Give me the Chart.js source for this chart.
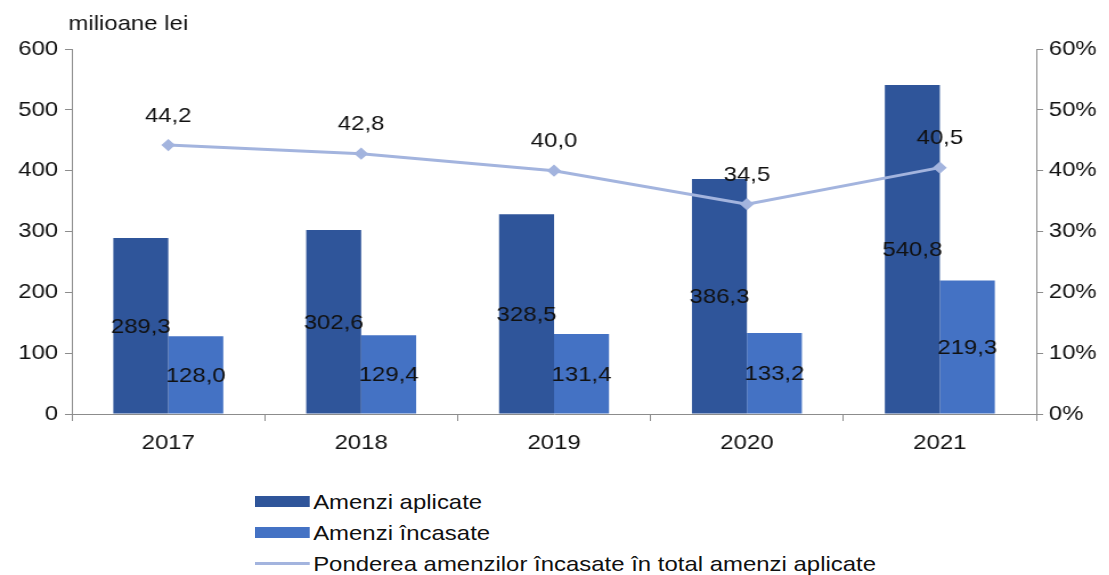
<!DOCTYPE html>
<html>
<head>
<meta charset="utf-8">
<script src="https://cdn.jsdelivr.net/npm/chart.js@4"></script>
<style>
  body { margin: 0; background: #fff; font-family: "Liberation Sans", Arial, sans-serif; }
  #wrap { position: relative; width: 1109px; height: 575px; overflow: hidden; }
  #myChart { position: absolute; left: 0; top: 0; transform: scaleX(1.14); transform-origin: left top; }
  #legend { position: absolute; left: 255px; top: 486px; font-size: 21px; color: #111;
            transform: scaleX(1.14); transform-origin: left top; white-space: nowrap; }
  .item { display: flex; align-items: center; height: 31px; }
  .sw { width: 48px; margin-right: 3px; }
</style>
</head>
<body>
<div id="wrap">
  <canvas id="myChart" width="973" height="465"></canvas>
  <div id="legend"></div>
</div>
<script>
const years = ['2017', '2018', '2019', '2020', '2021'];
const applied = [289.3, 302.6, 328.5, 386.3, 540.8];
const collected = [128.0, 129.4, 131.4, 133.2, 219.3];
const share = [44.2, 42.8, 40.0, 34.5, 40.5];
const leftTicks = [0, 100, 200, 300, 400, 500, 600];
const rightTicks = [0, 10, 20, 30, 40, 50, 60];

const darkBlue = '#2F559A';
const midBlue = '#4472C4';
const lineBlue = '#A3B4DE';
const fontFamily = '"Liberation Sans", Arial, sans-serif';

function fmt(v) {
  return v.toFixed(1).replace('.', ',');
}

// draws the value labels and the unit text
const labelPlugin = {
  id: 'valueLabels',
  afterDatasetsDraw(chart) {
    const ctx = chart.ctx;
    ctx.save();
    ctx.font = '21px ' + fontFamily;
    ctx.fillStyle = '#111';
    ctx.textAlign = 'center';
    ctx.textBaseline = 'middle';
    chart.data.datasets.forEach((ds, i) => {
      const meta = chart.getDatasetMeta(i);
      meta.data.forEach((el, j) => {
        if (ds.type === 'line') {
          ctx.fillText(fmt(ds.data[j]), el.x, el.y - 29);
        } else {
          const base = chart.scales.y.getPixelForValue(0);
          ctx.fillText(fmt(ds.data[j]), el.x, (el.y + base) / 2 + 1);
        }
      });
    });
    ctx.textAlign = 'left';
    ctx.fillText('milioane lei', 60, 24);
    ctx.restore();
  }
};

let chartCanvas = document.getElementById('myChart');

new Chart(chartCanvas, {
  data: {
    labels: years,
    datasets: [
      {
        type: 'line',
        label: 'Ponderea amenzilor încasate în total amenzi aplicate',
        data: share,
        yAxisID: 'y1',
        borderColor: lineBlue,
        backgroundColor: lineBlue,
        borderWidth: 3,
        pointStyle: 'rectRot',
        pointRadius: 4,
        tension: 0,
        order: 0
      },
      {
        type: 'bar',
        label: 'Amenzi aplicate',
        data: applied,
        yAxisID: 'y',
        backgroundColor: darkBlue,
        categoryPercentage: 0.57,
        barPercentage: 1,
        order: 1
      },
      {
        type: 'bar',
        label: 'Amenzi încasate',
        data: collected,
        yAxisID: 'y',
        backgroundColor: midBlue,
        categoryPercentage: 0.57,
        barPercentage: 1,
        order: 1
      }
    ]
  },
  options: {
    responsive: false,
    animation: false,
    layout: { padding: { top: 49, bottom: 0, left: 0, right: 0 } },
    plugins: {
      legend: { display: false },
      tooltip: { enabled: false }
    },
    scales: {
      x: {
        grid: { drawOnChartArea: false, drawTicks: true, tickLength: 7, color: '#8c8c8c' },
        border: { color: '#8c8c8c' },
        ticks: { color: '#111', font: { size: 21, family: fontFamily }, padding: 10 },
        afterFit: scale => { scale.height = 51; }
      },
      y: {
        position: 'left',
        min: 0,
        max: 600,
        afterBuildTicks: scale => { scale.ticks = leftTicks.map(v => ({ value: v })); },
        grid: { drawOnChartArea: false, drawTicks: true, tickLength: 6, color: '#8c8c8c' },
        border: { color: '#8c8c8c' },
        ticks: { color: '#111', font: { size: 21, family: fontFamily }, padding: 6 },
        afterFit: scale => { scale.width = 63; }
      },
      y1: {
        position: 'right',
        min: 0,
        max: 60,
        afterBuildTicks: scale => { scale.ticks = rightTicks.map(v => ({ value: v })); },
        grid: { drawOnChartArea: false, drawTicks: true, tickLength: 6, color: '#8c8c8c' },
        border: { color: '#8c8c8c' },
        ticks: {
          color: '#111',
          font: { size: 21, family: fontFamily },
          padding: 5,
          callback: v => v + '%'
        },
        afterFit: scale => { scale.width = 64; }
      }
    }
  },
  plugins: [labelPlugin]
});

// legend below the chart
const legendItems = [
  { label: 'Amenzi aplicate', color: darkBlue, kind: 'bar' },
  { label: 'Amenzi încasate', color: midBlue, kind: 'bar' },
  { label: 'Ponderea amenzilor încasate în total amenzi aplicate', color: lineBlue, kind: 'line' }
];
let legendBox = document.getElementById('legend');
legendItems.forEach(it => {
  let row = document.createElement('div');
  row.className = 'item';
  let sw = document.createElement('div');
  sw.className = 'sw';
  sw.style.height = it.kind === 'bar' ? '11px' : '3px';
  sw.style.background = it.color;
  let txt = document.createElement('span');
  txt.textContent = it.label;
  row.appendChild(sw);
  row.appendChild(txt);
  legendBox.appendChild(row);
});
</script>
</body>
</html>
